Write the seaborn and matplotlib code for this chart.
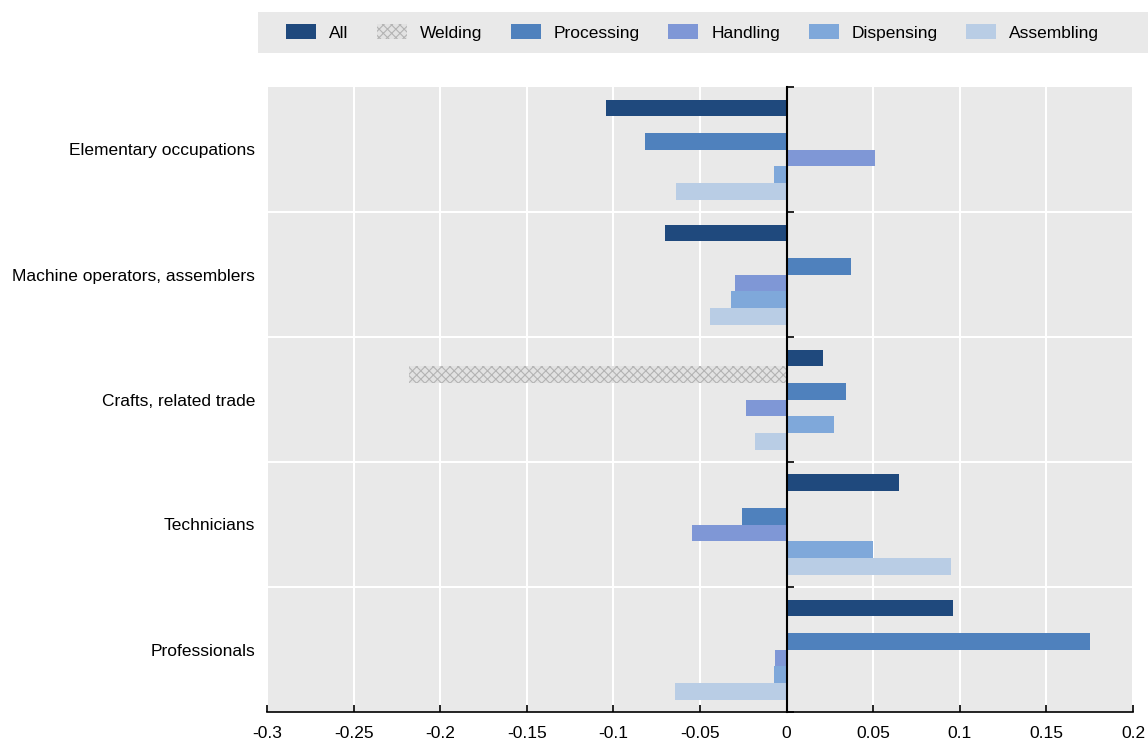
import numpy as np
import pandas as pd
import matplotlib
matplotlib.use("Agg")
import matplotlib.pyplot as plt
from matplotlib.patches import Rectangle
from matplotlib.ticker import FormatStrFormatter
import seaborn as sns

occupations = ["Elementary occupations", "Machine operators, assemblers",
               "Crafts, related trade", "Technicians", "Professionals"]
series = ["All", "Welding", "Processing", "Handling", "Dispensing", "Assembling"]

all_tasks  = [-0.104, -0.070, 0.021, 0.065, 0.096]
welding    = [np.nan, np.nan, -0.218, np.nan, np.nan]
processing = [-0.082, 0.037, 0.0345, -0.0255, 0.175]
handling   = [0.051, -0.030, -0.0233, -0.0545, -0.0065]
dispensing = [-0.0072, -0.032, 0.0272, 0.050, -0.0071]
assembling = [-0.064, -0.0444, -0.0185, 0.0948, -0.0646]

x_ticks = [-0.3, -0.25, -0.2, -0.15, -0.1, -0.05, 0, 0.05, 0.1, 0.15, 0.2]

colors = ["#1f497d", "#d9d9d9", "#4f81bd", "#7f97d6", "#7fa8da", "#b9cde5"]

values = [all_tasks, welding, processing, handling, dispensing, assembling]
df = pd.DataFrame(
    [(occ, s, v[i]) for s, v in zip(series, values) for i, occ in enumerate(occupations)],
    columns=["occupation", "series", "value"],
)

sns.set_theme(style="white")
plt.rcParams["font.family"] = ["Liberation Sans", "DejaVu Sans"]
plt.rcParams["text.color"] = "black"
plt.rcParams["xtick.color"] = "black"
plt.rcParams["ytick.color"] = "black"
plt.rcParams["hatch.linewidth"] = 0.8

FS = 12.5
BG = "#e9e9e9"
fig = plt.figure(figsize=(11.48, 7.47), dpi=100)
ax = fig.add_axes([267 / 1148, 1 - 712 / 747, 866 / 1148, 625 / 747])
ax.set_facecolor(BG)

sns.barplot(data=df, y="occupation", x="value", hue="series",
            order=occupations, hue_order=series, palette=colors,
            saturation=1, orient="h", errorbar=None, width=0.8, linewidth=0,
            legend=False, ax=ax)

# cross-hatched welding bars
for bar in ax.containers[1]:
    bar.set_facecolor("#e2e2e2")
    bar.set_edgecolor("#b4b4b4")
    bar.set_hatch("xxxx")
    bar.set_linewidth(0)

ax.set_xlim(-0.3, 0.2)
ax.set_ylim(4.5, -0.5)
ax.set_xticks(x_ticks)
ax.xaxis.set_major_formatter(FormatStrFormatter("%g"))
ax.set_xlabel("")
ax.set_ylabel("")

# white grid: vertical at x ticks, horizontal between occupation groups
ax.set_axisbelow(True)
ax.grid(axis="x", which="major", color="white", linewidth=1.5)
ax.set_yticks(np.arange(0.5, len(occupations) - 0.5), minor=True)
ax.grid(axis="y", which="minor", color="white", linewidth=1.5)
ax.grid(axis="y", which="major", visible=False)

for side in ["top", "right", "left"]:
    ax.spines[side].set_visible(False)
ax.spines["bottom"].set_color("black")
ax.spines["bottom"].set_linewidth(1.2)

ax.tick_params(axis="x", direction="in", length=5, width=1.2, color="black",
               labelsize=FS, pad=10, bottom=True, labelcolor="black")
ax.tick_params(axis="y", which="major", length=0, labelsize=FS, pad=8.5,
               labelcolor="black")
ax.tick_params(axis="y", which="minor", length=0)

# zero axis with bracket ticks at group boundaries
zero_frac = (0 - (-0.3)) / 0.5
zax = ax.secondary_yaxis(zero_frac)
zax.set_zorder(10)
zax.set_yticks(np.arange(-0.5, len(occupations)))
zax.tick_params(axis="y", direction="out", length=5, width=1.2, color="black",
                labelleft=False, labelright=False)
for sp in zax.spines.values():
    sp.set_color("black")
    sp.set_linewidth(1.5)

# legend band
fig.patches.append(Rectangle((258 / 1148, 1 - 53 / 747), 890 / 1148, 41 / 747,
                             transform=fig.transFigure, facecolor=BG,
                             edgecolor="none", zorder=0))
handles = [ax.containers[i][0] for i in range(len(series))]
leg = fig.legend(handles, series, loc="center left",
                 bbox_to_anchor=(286 / 1148, 1 - 32.5 / 747), ncol=6,
                 frameon=False, fontsize=FS, handlelength=1.72, handleheight=0.92,
                 handletextpad=0.75, columnspacing=1.65, borderpad=0,
                 borderaxespad=0)

fig.savefig("out.png", dpi=100)
